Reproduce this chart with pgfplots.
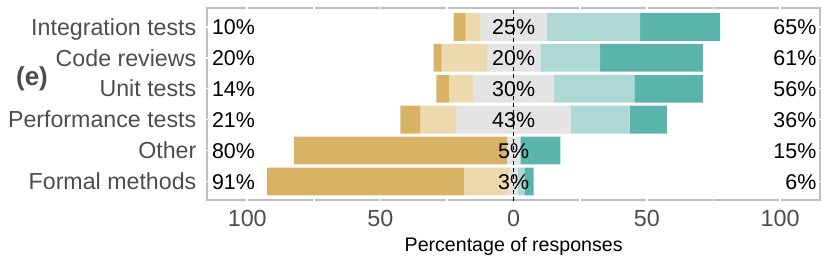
\documentclass[border=0pt]{standalone}
\usepackage{pgfplots}
\pgfplotsset{compat=1.18}
\usepackage{pgfplotstable}
\usepackage{fontspec}
\setmainfont{Liberation Sans}
\definecolor{dgold}{HTML}{D9B365}
\definecolor{lgold}{HTML}{ECD9AE}
\definecolor{neut}{HTML}{E4E4E4}
\definecolor{lteal}{HTML}{ADD8D4}
\definecolor{dteal}{HTML}{5BB4AC}
\definecolor{axgrey}{HTML}{4D4D4D}
\definecolor{bordergrey}{HTML}{BEBEBE}
\newcommand{\numfont}{\fontsize{10.7}{12}\selectfont}

\pgfplotstableread{
y off dg lg n lt dt
6 -22.5 4.5 5.5 25 35 30
5 -30 3 17 20 22.5 38.5
4 -29 4.8 9.2 30 30.3 25.7
3 -42.5 7.5 13.5 43 22 14
2 -82.5 80 0 5 0 15
1 -92.5 74 17 3 2.5 3.5
}\likertdata

\begin{document}
\begin{tikzpicture}
\useasboundingbox (-103.65pt,-28pt) rectangle (311.35pt,100pt);
\begin{axis}[
  at={(0,0)}, anchor=south west,
  scale only axis, width=306.35pt, height=95.85pt,
  xmin=-115, xmax=115, ymin=0.4, ymax=6.6,
  xbar stacked, stack negative=on previous, bar width=0.9,
  ytick={1,2,3,4,5,6},
  yticklabels={Formal methods,Other,Performance tests,Unit tests,Code reviews,Integration tests},
  xtick={-100,-50,0,50,100}, xticklabels={100,50,0,50,100},
  major tick length=0pt, minor tick length=0pt,
  axis line style={draw=bordergrey, line width=0.8pt},
  yticklabel style={font=\fontsize{11.6}{12}\selectfont, text=axgrey, anchor=base east, inner sep=0pt, xshift=-5.3pt, yshift=-4.15pt},
  xticklabel style={font=\fontsize{11.65}{12}\selectfont, text=axgrey, anchor=north, inner sep=0pt, yshift=-5pt},
  /pgf/number format/assume math mode=true,
  xlabel={Percentage of responses},
  xlabel style={font=\fontsize{9.8}{11}\selectfont, anchor=base, at={(axis description cs:0.5,0)}, yshift=-25.85pt, inner sep=0pt},
  clip=false,
]
\addplot[draw=none, fill=none] table[x=off, y=y] {\likertdata};
\addplot[draw=none, fill=dgold] table[x=dg, y=y] {\likertdata};
\addplot[draw=none, fill=lgold] table[x=lg, y=y] {\likertdata};
\addplot[draw=none, fill=neut] table[x=n, y=y] {\likertdata};
\addplot[draw=none, fill=lteal] table[x=lt, y=y] {\likertdata};
\addplot[draw=none, fill=dteal] table[x=dt, y=y] {\likertdata};
\end{axis}
% annotations in data units: x=1 unit, y=1 row
\begin{scope}[x=1.331957pt, y=15.4597pt, shift={(153.175pt,-6.18388pt)}]
  \foreach \xx in {-100,-75,-50,-25,25,50,75,100}{
    \draw[white, line width=0.8pt] (\xx,0.4) ++(0,-0.7pt) -- ++(0,1.4pt);
    \draw[white, line width=0.8pt] (\xx,6.6) ++(0,-0.7pt) -- ++(0,1.4pt);
  }
  \foreach \yy in {1,2,3,4,5,6}{
    \draw[white, line width=0.8pt] (-115,\yy) ++(-0.7pt,0) -- ++(1.4pt,0);
    \draw[white, line width=0.8pt] (115,\yy) ++(-0.7pt,0) -- ++(1.4pt,0);
  }
  \draw[black, line width=0.6pt, dash pattern=on 2pt off 1.6pt] (0,0.4) ++(0,-0.4pt) -- (0,6.6);
  \foreach \yy/\lab in {6/10,5/20,4/14,3/21,2/80,1/91}{
    \node[anchor=base west, inner sep=0pt, font=\numfont, yshift=-3.83pt] at (-113.35,\yy) {\lab\%};
  }
  \foreach \yy/\lab in {6/25,5/20,4/30,3/43,2/5,1/3}{
    \node[anchor=base, inner sep=0pt, font=\numfont, yshift=-3.83pt] at (0,\yy) {\lab\%};
  }
  \foreach \yy/\lab in {6/65,5/61,4/56,3/36,2/15,1/6}{
    \node[anchor=base east, inner sep=0pt, font=\numfont, yshift=-3.83pt] at (113.76,\yy) {\lab\%};
  }
\end{scope}
\node[font=\bfseries\fontsize{13}{14}\selectfont, text=axgrey, inner sep=0pt] at (-87.65pt,60.5pt) {(e)};
\end{tikzpicture}
\end{document}
